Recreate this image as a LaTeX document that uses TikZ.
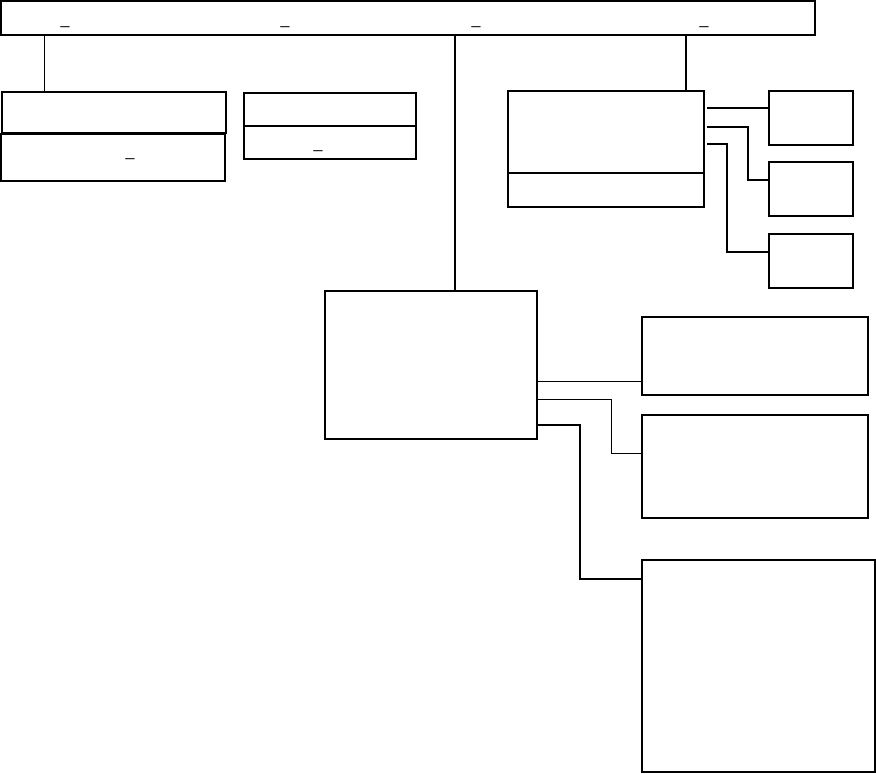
\documentclass[tikz,border=0pt]{standalone}
\usepackage{fontspec}
\setmainfont{Liberation Sans}
\usetikzlibrary{positioning}
\tikzset{
  org box/.style={draw=black, line width=2pt, inner sep=0pt, minimum width=#1},
  org link/.style={draw=black, line width=1pt},
  org mid link/.style={draw=black, line width=1.4pt},
  org main link/.style={draw=black, line width=2pt},
  org mark/.style={font=\fontsize{16}{18}\selectfont, inner sep=0pt, anchor=base},
}

\begin{document}
\begin{tikzpicture}[x=1pt, y=-1pt]
  \useasboundingbox (0,0) rectangle (876,774);

  % Top bar
  \node[org box=814, minimum height=34] (top) at (408,18) {};
  \node[org mark] (topm1) at (65,24.3) {\_};
  \node[org mark] (topm2) at (285,24.3) {\_};
  \node[org mark] (topm3) at (476,24.3) {\_};
  \node[org mark] (topm4) at (704,24.3) {\_};

  % Left pair and small pair
  \node[org box=224, minimum height=41] (left) at (114,112.5) {};
  \node[org box=224, minimum height=47] (leftsub) at (113,157.5) {};
  \node[org mark] (leftm) at (130,156.3) {\_};
  \node[org box=172, minimum height=33] (pair) at (330,109.5) {};
  \node[org box=172, minimum height=33] (pairsub) at (330,142.5) {};
  \node[org mark] (pairm) at (318,148.3) {\_};

  % Upper right group
  \node[org box=196, minimum height=82] (upper) at (606,132) {};
  \node[org box=196, minimum height=34] (uppersub) at (606,190) {};
  \foreach \n/\y in {1/118,2/189,3/261} {
    \node[org box=84, minimum height=54] (unit\n) at (811,\y) {};
  }

  % Middle block and its three children
  \node[org box=212, minimum height=148] (mid) at (431,365) {};
  \node[org box=226, minimum height=78] (child1) at (755,356) {};
  \node[org box=226, minimum height=103] (child2) at (755,466.5) {};
  \node[org box=233, minimum height=212] (child3) at (758.5,666) {};

  % Drops from the top bar
  \draw[org link] (left.north -| 44,0) -- (top.south -| 44,0);
  \draw[org main link] (mid.north -| 455,0) -- (top.south -| 455,0);
  \draw[org main link] (upper.north -| 686,0) -- (top.south -| 686,0);

  % Upper right links
  \draw[org mid link] ([xshift=2pt]upper.east |- 0,108) -- (unit1.west |- 0,108);
  \draw[org mid link] ([xshift=2pt]upper.east |- 0,127) -| (748,180) -- (unit2.west |- 0,180);
  \draw[org mid link] ([xshift=2pt]upper.east |- 0,144) -| (727,252) -- (unit3.west |- 0,252);

  % Middle links
  \draw[org link] (mid.east |- 0,381) -- (child1.west |- 0,381);
  \draw[org link] (mid.east |- 0,399) -| (611,453) -- (child2.west |- 0,453);
  \draw[org main link] (mid.east |- 0,425) -| (580,579) -- (child3.west |- 0,579);
\end{tikzpicture}
\end{document}
